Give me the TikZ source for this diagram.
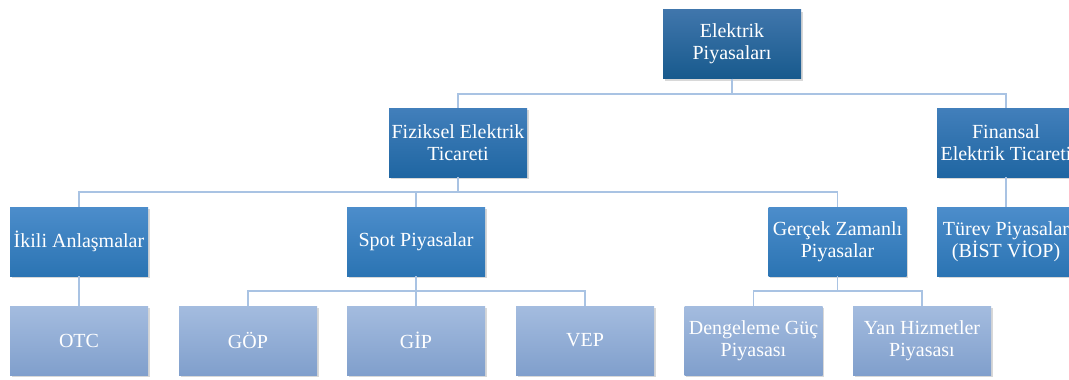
\documentclass[tikz,border=0pt]{standalone}
\usepackage{fontspec}
\setmainfont{Liberation Serif}
\usetikzlibrary{shadows,calc}
\definecolor{conn}{HTML}{A9C3E3}
\tikzset{
  box/.style={rectangle, minimum width=138pt, minimum height=69pt, inner sep=0pt,
    align=center, text=white, font=\fontsize{20}{22}\selectfont,
    drop shadow={shadow xshift=1.5pt, shadow yshift=-2pt, opacity=0.3}},
  lvlzero/.style={box, top color={rgb,255:red,64;green,118;blue,172}, bottom color={rgb,255:red,24;green,90;blue,141}},
  lvlone/.style={box, top color={rgb,255:red,66;green,127;blue,187}, bottom color={rgb,255:red,31;green,102;blue,162}},
  lvltwo/.style={box, top color={rgb,255:red,76;green,141;blue,203}, bottom color={rgb,255:red,43;green,116;blue,179}},
  lvlthree/.style={box, top color={rgb,255:red,164;green,188;blue,223}, bottom color={rgb,255:red,128;green,159;blue,204}},
  link/.style={draw=conn, line width=1.6pt}
}
\begin{document}
\begin{tikzpicture}[x=1pt,y=1pt]
\useasboundingbox (0,0) rectangle (1069,-380);
\clip (0,0) rectangle (1069,-380);
\fill[white] (0,0) rectangle (1069,-380);
% level 0
\node[lvlzero] (el) at (732,-44) {Elektrik\\Piyasaları};
% level 1
\node[lvlone] (fiz) at (458,-142.5) {Fiziksel Elektrik\\Ticareti};
\node[lvlone] (fin) at (1006,-142.5) {Finansal\\Elektrik Ticareti};
% level 2
\node[lvltwo] (iki) at (79,-241.5) {İkili Anlaşmalar};
\node[lvltwo] (spot) at (416,-241.5) {Spot Piyasalar};
\node[lvltwo] (ger) at (837.5,-241.5) {Gerçek Zamanlı\\Piyasalar};
\node[lvltwo] (tur) at (1006,-241.5) {Türev Piyasalar\\(BİST VİOP)};
% level 3
\node[lvlthree] (otc) at (79,-340.5) {OTC};
\node[lvlthree] (gop) at (248,-340.5) {GÖP};
\node[lvlthree] (gip) at (416,-340.5) {GİP};
\node[lvlthree] (vep) at (585,-340.5) {VEP};
\node[lvlthree] (den) at (753.5,-340.5) {Dengeleme Güç\\Piyasası};
\node[lvlthree] (yan) at (922,-340.5) {Yan Hizmetler\\Piyasası};
% connectors
\begin{scope}[on background layer/.style={}]
\draw[link] (el.south) -- ++(0,-15) -| (fiz.north);
\draw[link] (el.south) -- ++(0,-15) -| (fin.north);
\draw[link] (fiz.south) -- ++(0,-15) -| (iki.north);
\draw[link] (fiz.south) -- ++(0,-15) -| (spot.north);
\draw[link] (fiz.south) -- ++(0,-15) -| (ger.north);
\draw[link] (fin.south) -- (tur.north);
\draw[link] (iki.south) -- (otc.north);
\draw[link] (spot.south) -- ++(0,-15) -| (gop.north);
\draw[link] (spot.south) -- (gip.north);
\draw[link] (spot.south) -- ++(0,-15) -| (vep.north);
\draw[link] (ger.south) -- ++(0,-15) -| (den.north);
\draw[link] (ger.south) -- ++(0,-15) -| (yan.north);
\end{scope}
\end{tikzpicture}
\end{document}
